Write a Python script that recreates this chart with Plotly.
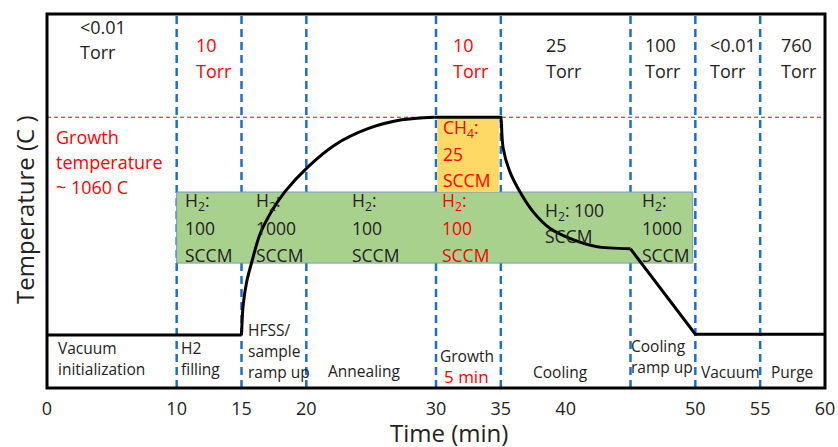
import plotly.graph_objects as go

# ---------------- data ----------------
# temperature profile (time in min, temperature in relative units 0-100)
base_t = [0, 15]
base_T = [14.2, 14.2]
heat_t = [15, 15.13, 15.4, 15.8, 16.4, 17.3, 18.35, 20.15, 22.2, 24.8, 27.35, 29.9]
heat_T = [14.2, 22.2, 28.4, 33.8, 40.9, 47.1, 52.5, 59.2, 65.0, 69.4, 71.7, 72.4]
plateau_t = [29.9, 35, 35.05]
plateau_T = [72.4, 72.4, 70.8]
cool_t = [35.05, 35.18, 35.7, 36.47, 37.5, 38.78, 40.32, 42.38, 45]
cool_T = [70.8, 64.1, 57.8, 52.5, 47.1, 42.7, 40.0, 37.8, 37.2]
ramp_t = [45, 50, 60]
ramp_T = [37.2, 14.4, 14.4]

growth_temp = 72.4
phase_bounds = [10, 15, 20, 30, 35, 45, 50, 55]
tick_vals = [0, 10, 15, 20, 30, 35, 40, 50, 55, 60]

h2_box = [10, 49.8, 33.4, 52.4]      # x0, x1, y0, y1
ch4_box = [30.1, 34.85, 52.4, 72.4]

pressure_labels = [["<0.01", "Torr"], ["10", "Torr"], ["10", "Torr"], ["25", "Torr"],
                   ["100", "Torr"], ["<0.01", "Torr"], ["760", "Torr"]]
pressure_red = [False, True, True, False, False, False, False]

flow_labels = [["H<sub>2</sub>:", "100", "SCCM"], ["H<sub>2</sub>:", "1000", "SCCM"],
               ["H<sub>2</sub>:", "100", "SCCM"], ["H<sub>2</sub>:", "100", "SCCM"],
               ["H<sub>2</sub>: 100", "SCCM"], ["H<sub>2</sub>:", "1000", "SCCM"],
               ["CH<sub>4</sub>:", "25", "SCCM"]]
flow_red = [False, False, False, True, False, False, True]

phase_labels = [["Vacuum", "initialization"], ["H2", "filling"], ["HFSS/", "sample", "ramp up"],
                ["Annealing"], ["Growth"], ["Cooling"], ["Cooling", "ramp up"],
                ["Vacuum"], ["Purge"]]
growth_note = "5 min"
growth_text = ["Growth", "temperature", "~ 1060 C"]

# ---------------- placement ----------------
def px2x(px):
    return (px - 47) / 12.967

def py2y(py):
    return (388 - py) / 3.74

pressure_pos = [(78, 26.7), (194, 45), (451, 45), (544.3, 45), (642.7, 45), (707.7, 45), (778.7, 45)]
flow_pos = [(183, 201), (253.7, 201), (349.7, 201), (439.7, 201), (543, 211.7), (639.7, 201), (440.7, 128.3)]
phase_pos = [(55.7, 348.3), (179, 348.3), (246.3, 330), (326.3, 371), (437.7, 356),
             (531, 371.7), (629.3, 346), (699.3, 371.7), (769.3, 371.7)]

FONT = "Open Sans"
BLACK = "#222222"
RED = "#ff0000"
BLUE = "#1f6fc6"

fig = go.Figure()

for tx, ty, shape in [(base_t, base_T, "linear"), (heat_t, heat_T, "spline"),
                      (plateau_t, plateau_T, "linear"), (cool_t, cool_T, "spline"),
                      (ramp_t, ramp_T, "linear")]:
    fig.add_trace(go.Scatter(x=tx, y=ty, mode="lines",
                             line=dict(color="black", width=3, shape=shape, smoothing=0.8),
                             hoverinfo="skip", showlegend=False))

shapes = []
shapes.append(dict(type="rect", xref="x", yref="y", x0=h2_box[0], x1=h2_box[1],
                   y0=h2_box[2], y1=h2_box[3], fillcolor="#a9d18e",
                   line=dict(color="#7a96c0", width=1), layer="below"))
shapes.append(dict(type="rect", xref="x", yref="y", x0=ch4_box[0], x1=ch4_box[1],
                   y0=ch4_box[2], y1=ch4_box[3], fillcolor="#ffd966",
                   line=dict(color="#ffd966", width=0), layer="below"))
shapes.append(dict(type="line", xref="x", yref="y", x0=0, x1=60, y0=growth_temp, y1=growth_temp,
                   line=dict(color=RED, width=1, dash="4px,3px"), layer="below"))
for b in phase_bounds:
    shapes.append(dict(type="line", xref="x", yref="paper", x0=b, x1=b, y0=0, y1=1,
                       line=dict(color=BLUE, width=2.5, dash="8px,5px"), layer="below"))
shapes.append(dict(type="rect", xref="paper", yref="paper", x0=0, x1=1, y0=0, y1=1,
                   line=dict(color="black", width=3), layer="above"))

annotations = []

def add_lines(px, py, lines, color, size, dy):
    for i, t in enumerate(lines):
        annotations.append(dict(x=px2x(px), y=py2y(py + i * dy), xref="x", yref="y",
                                text=t, showarrow=False, xanchor="left", yanchor="middle",
                                font=dict(family=FONT, size=size, color=color)))

for lab, pos, red in zip(pressure_labels, pressure_pos, pressure_red):
    add_lines(pos[0], pos[1], lab, RED if red else BLACK, 18, 25.5)

add_lines(54, 136.7, growth_text, RED, 18, 25)

for lab, pos, red in zip(flow_labels, flow_pos, flow_red):
    dy = 24.5 if len(lab) == 2 else 27
    if lab[0].startswith("CH"):
        dy = 26
    add_lines(pos[0], pos[1], lab, RED if red else BLACK, 17.5, dy)

for lab, pos in zip(phase_labels, phase_pos):
    add_lines(pos[0], pos[1], lab, BLACK, 15.5, 21)
add_lines(442, 376.7, [growth_note], RED, 17, 21)

# axis titles
annotations.append(dict(x=(449 - 47) / 778, y=(388 - 432.5) / 374, xref="paper", yref="paper",
                        text="Time (min)", showarrow=False, xanchor="center", yanchor="middle",
                        font=dict(family=FONT, size=24, color=BLACK)))
annotations.append(dict(x=(24 - 47) / 778, y=(388 - 210) / 374, xref="paper", yref="paper",
                        text="Temperature (C )", showarrow=False, textangle=-90,
                        xanchor="center", yanchor="middle",
                        font=dict(family=FONT, size=24, color=BLACK)))

fig.update_layout(
    width=838, height=447,
    margin=dict(l=47, r=13, t=14, b=59, autoexpand=False),
    paper_bgcolor="white", plot_bgcolor="white",
    shapes=shapes, annotations=annotations,
    xaxis=dict(range=[0, 60], tickvals=tick_vals, ticktext=[str(v) for v in tick_vals],
               showgrid=False, zeroline=False, showline=False, automargin=False,
               ticks="outside", ticklen=4, tickcolor="rgba(0,0,0,0)",
               tickfont=dict(family=FONT, size=18, color=BLACK), fixedrange=True),
    yaxis=dict(range=[0, 100], showticklabels=False, showgrid=False, zeroline=False,
               showline=False, ticks="", fixedrange=True, automargin=False),
    showlegend=False,
)

fig.write_html("out.html", config={"displayModeBar": False},
               post_script="document.body.style.margin='0px';document.body.style.overflow='hidden';")
